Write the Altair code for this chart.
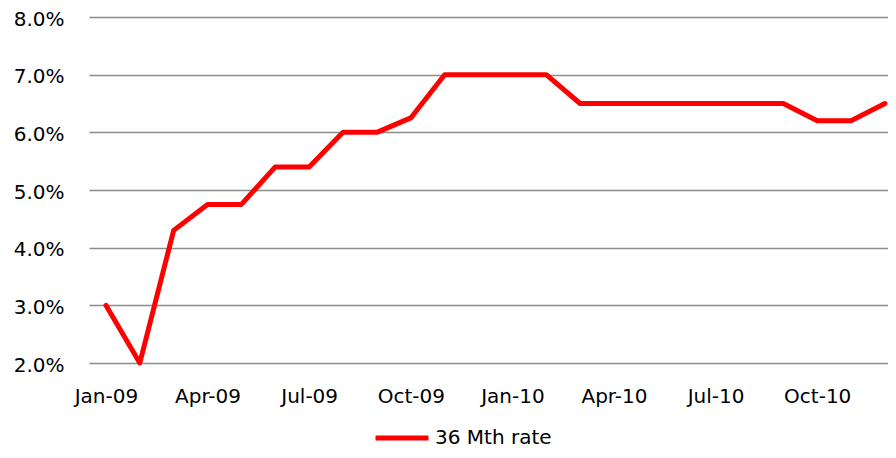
import altair as alt
import pandas as pd

months = ["Jan-09", "Feb-09", "Mar-09", "Apr-09", "May-09", "Jun-09",
          "Jul-09", "Aug-09", "Sep-09", "Oct-09", "Nov-09", "Dec-09",
          "Jan-10", "Feb-10", "Mar-10", "Apr-10", "May-10", "Jun-10",
          "Jul-10", "Aug-10", "Sep-10", "Oct-10", "Nov-10", "Dec-10"]
rate_36m = [3.0, 2.0, 4.3, 4.75, 4.75, 5.4,
            5.4, 6.0, 6.0, 6.25, 7.0, 7.0,
            7.0, 7.0, 6.5, 6.5, 6.5, 6.5,
            6.5, 6.5, 6.5, 6.2, 6.2, 6.5]
series_name = "36 Mth rate"
y_ticks = [2, 3, 4, 5, 6, 7, 8]
x_tick_idx = [0, 3, 6, 9, 12, 15, 18, 21]

df = pd.DataFrame({
    "idx": list(range(len(months))),
    "month": months,
    "rate": rate_36m,
    "series": [series_name] * len(months),
})

label_array = "[" + ",".join("'%s'" % m for m in months) + "]"
FONT = "DejaVu Sans"
FS = 20

chart = alt.Chart(df).mark_line(strokeWidth=5, strokeJoin="round", strokeCap="round").encode(
    x=alt.X("idx:Q",
            scale=alt.Scale(domain=[-0.5, 23.09], nice=False, zero=False),
            axis=alt.Axis(values=x_tick_idx, labelExpr=label_array + "[datum.value]",
                          grid=False, ticks=False, domain=False, title=None,
                          labelFont=FONT, labelFontSize=FS, labelColor="#000000",
                          labelPadding=23)),
    y=alt.Y("rate:Q",
            scale=alt.Scale(domain=[2, 8], nice=False, zero=False),
            axis=alt.Axis(values=y_ticks, labelExpr="format(datum.value, '.1f') + '%'",
                          grid=True, gridColor="#8c8c8c", gridWidth=1.5,
                          ticks=False, domain=False, title=None,
                          labelFont=FONT, labelFontSize=FS, labelColor="#000000",
                          labelPadding=25, labelOffset=2)),
    color=alt.Color("series:N",
                    scale=alt.Scale(range=["#ff0000"]),
                    legend=alt.Legend(title=None, orient="none", legendX=284, legendY=392,
                                      symbolType="stroke", symbolSize=2809,
                                      symbolStrokeWidth=5, labelFont=FONT,
                                      labelFontSize=FS, labelColor="#000000",
                                      labelOffset=4, padding=0)),
).properties(
    width=799,
    height=346,
    autosize=alt.AutoSizeParams(type="none"),
    padding={"left": 81, "top": 9, "right": 0, "bottom": 87},
).configure_view(stroke=None)

chart.save("out.html", embed_options={"renderer": "svg", "actions": False})
